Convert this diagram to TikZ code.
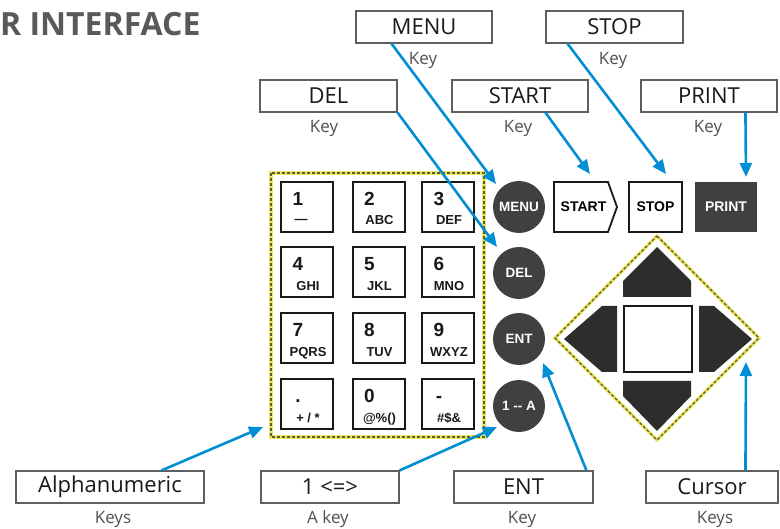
\documentclass[tikz,border=0pt]{standalone}
\usepackage{fontspec}
\usetikzlibrary{arrows.meta}
\newfontfamily\lblfont{Open Sans}
\newfontfamily\keyfont{Liberation Sans}
\definecolor{blu}{RGB}{0,143,211}
\definecolor{keydark}{RGB}{64,64,64}
\definecolor{arrowdark}{RGB}{45,45,45}
\definecolor{ylw}{RGB}{238,230,90}
\definecolor{dsh}{RGB}{90,90,60}
\definecolor{boxgray}{RGB}{95,95,95}
\definecolor{titlegray}{RGB}{88,89,91}
\definecolor{subgray}{RGB}{80,80,80}
\tikzset{
  lbl/.style={draw=boxgray, line width=1.1pt, minimum height=32pt, inner sep=0pt,
    font=\lblfont\fontsize{22}{24}\selectfont, text=black!90},
  sub/.style={inner sep=0pt, font=\lblfont\fontsize{17}{19}\selectfont, text=subgray},
  padkey/.style={draw=black!90, line width=2pt, minimum width=52pt, minimum height=50pt, inner sep=0pt},
  digit/.style={inner sep=0pt, font=\keyfont\bfseries\fontsize{19}{21}\selectfont, text=black!90},
  letters/.style={inner sep=0pt, font=\keyfont\bfseries\fontsize{13}{15}\selectfont, text=black!90},
  roundkey/.style={circle, fill=keydark, minimum size=52pt, inner sep=0pt, text=white,
    font=\keyfont\bfseries\fontsize{13.5}{15}\selectfont},
  keytext/.style={inner sep=0pt, font=\keyfont\bfseries\fontsize{14}{16}\selectfont},
  conn/.style={draw=blu, line width=2.6pt, -{Triangle[length=14pt,width=12pt]}},
  ybase/.style={draw=ylw, line width=3.4pt},
  ydash/.style={draw=dsh, line width=1.2pt, dash pattern=on 3pt off 2pt},
  cursarrow/.style={fill=arrowdark}
}
\begin{document}
\begin{tikzpicture}[x=1pt,y=-1pt]
\useasboundingbox (0,0) rectangle (780,529);
\fill[white] (0,0) rectangle (780,529);

% title
\node[anchor=base west, inner sep=0pt, text=titlegray,
  font=\lblfont\bfseries\fontsize{32}{34}\selectfont] (title) at (0,36) {R INTERFACE};

% label boxes
\node[lbl, minimum width=136pt] (menulbl) at (424,27) {MENU};
\node[lbl, minimum width=137pt] (stoplbl) at (614.5,27) {STOP};
\node[lbl, minimum width=137pt] (dellbl) at (328.5,96) {DEL};
\node[lbl, minimum width=136pt] (startlbl) at (520,96) {START};
\node[lbl, minimum width=136pt] (printlbl) at (709,96) {PRINT};
\node[lbl, minimum width=188pt] (alphalbl) at (110,487) {Alphanumeric};
\node[lbl, minimum width=138pt] (onelbl) at (330,487) {1 <=>};
\node[lbl, minimum width=139pt] (entlbl) at (523.5,487) {ENT};
\node[lbl, minimum width=132pt] (curlbl) at (712,487) {Cursor};

\node[sub] (menusub) at (423,60) {Key};
\node[sub] (stopsub) at (613,60) {Key};
\node[sub] (delsub) at (324,128) {Key};
\node[sub] (startsub) at (518,128) {Key};
\node[sub] (printsub) at (708,128) {Key};
\node[sub] (alphasub) at (113,519) {Keys};
\node[sub] (onesub) at (328,519) {A key};
\node[sub] (entsub) at (522,519) {Key};
\node[sub] (cursub) at (715,519) {Keys};

% keypad frame
\draw[ybase] (271,173) rectangle (484,437);
\draw[ydash] (271,173) rectangle (484,437);

\foreach \n/\x/\y/\d/\l in {
 1/307/207/1/{},2/378.5/207/2/ABC,3/448/207/3/DEF,
 4/307/272.5/4/GHI,5/378.5/272.5/5/JKL,6/448/272.5/6/MNO,
 7/307/338.5/7/PQRS,8/378.5/338.5/8/TUV,9/448/338.5/9/WXYZ,
 10/307/404.5/./{+ / *},11/378.5/404.5/0/{@\%()},12/448/404.5/-/{\#\$\&}}
{
  \node[padkey] (pk\n) at (\x,\y) {};
  \node[digit, anchor=base] (pk\n d) at ([xshift=-9pt,yshift=1.5pt]pk\n.center) {\d};
  \node[letters, anchor=base] (pk\n l) at ([xshift=1pt,yshift=-18pt]pk\n.center) {\l};
}
\node[letters, anchor=base] (pk1dash) at ([xshift=-6pt,yshift=-17pt]pk1.center) {—};

% round keys
\node[roundkey] (menukey) at (519,207) {MENU};
\node[roundkey] (delkey) at (519,273) {DEL};
\node[roundkey] (entkey) at (519,339) {ENT};
\node[roundkey] (onekey) at (519,406) {1 -{}- A};

% START, STOP, PRINT
\draw[line width=1.8pt, draw=black!90] (554,182) -- (608,182) -- (617,207) -- (608,232) -- (554,232) -- cycle;
\node[keytext] (startkey) at (583.5,207) {START};
\node[keytext, draw=black!90, line width=2pt, minimum width=53pt, minimum height=50pt] (stopkey) at (655.5,207) {STOP};
\node[keytext, fill=keydark, text=white, minimum width=62pt, minimum height=50pt] (printkey) at (726,207) {PRINT};

% cursor diamond
\draw[ybase] (657,236) -- (759,338) -- (657,440) -- (555,338) -- cycle;
\draw[ydash] (657,236) -- (759,338) -- (657,440) -- (555,338) -- cycle;
\node[draw=black!90, line width=1.6pt, minimum width=68pt, minimum height=66pt, inner sep=0pt] (center) at (658,339) {};
\fill[cursarrow] (623,297) -- (623,281) -- (657,247) -- (691,281) -- (691,297) -- cycle;
\fill[cursarrow] (623,381) -- (623,396) -- (657,431) -- (691,396) -- (691,381) -- cycle;
\fill[cursarrow] (617,306) -- (602,306) -- (564,339) -- (602,372) -- (617,372) -- cycle;
\fill[cursarrow] (699,306) -- (714,306) -- (752,339) -- (714,372) -- (699,372) -- cycle;

% tips
\coordinate (menutip) at (496,184);
\coordinate (deltip) at (497,247);
\coordinate (starttip) at (590,174);
\coordinate (stoptip) at (666,174);
\coordinate (printtip) at (746,177);
\coordinate (alphatip) at (263,427);
\coordinate (onetip) at (497,427);
\coordinate (enttip) at (543,363);
\coordinate (curtip) at (746,362);

% connectors
\draw[conn] ([xshift=36pt]menulbl.south west) -- (menutip);
\draw[conn] (dellbl.south east) -- (deltip);
\draw[conn] ([xshift=94pt]startlbl.south west) -- (starttip);
\draw[conn] ([xshift=22pt]stoplbl.south west) -- (stoptip);
\draw[conn] ([xshift=105pt]printlbl.south west) -- (printtip);
\draw[conn] ([xshift=146pt]alphalbl.north west) -- (alphatip);
\draw[conn] (onelbl.north east) -- (onetip);
\draw[conn] ([xshift=133pt]entlbl.north west) -- (enttip);
\draw[conn] ([xshift=100pt]curlbl.north west) -- (curtip);
\end{tikzpicture}
\end{document}
